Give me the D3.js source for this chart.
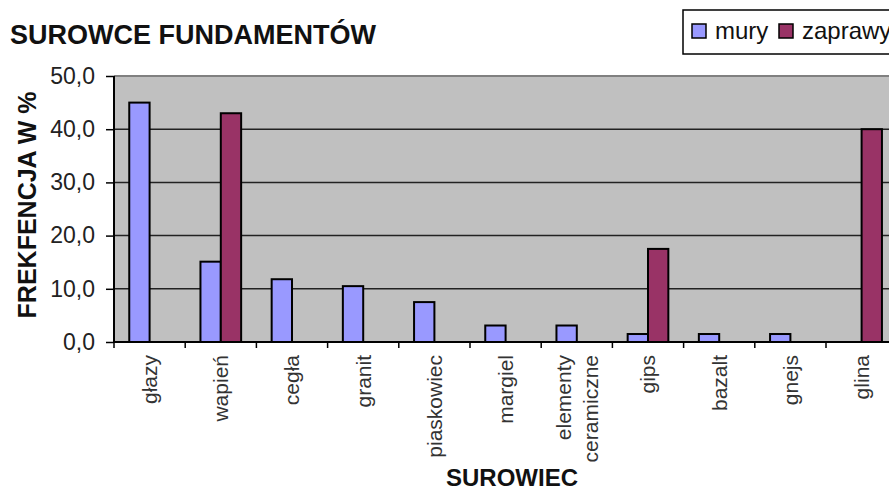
<!DOCTYPE html>
<html>
<head>
<meta charset="utf-8">
<script src="https://cdn.jsdelivr.net/npm/d3@7"></script>
<style>
  body { margin: 0; background: #fff; }
  svg { display: block; font-family: Arial, "Liberation Sans", sans-serif; }
</style>
</head>
<body>
<svg id="chart" width="889" height="488"></svg>
<script>
// data
var categories = ['głazy', 'wapień', 'cegła', 'granit', 'piaskowiec', 'margiel',
  'elementy ceramiczne', 'gips', 'bazalt', 'gnejs', 'glina'];
var seriesNames = ['mury', 'zaprawy'];
var mury    = [45.0, 15.1, 11.8, 10.5, 7.5, 3.1, 3.1, 1.5, 1.5, 1.5, 0];
var zaprawy = [0, 43.0, 0, 0, 0, 0, 0, 17.5, 0, 0, 40.0];
var yTicks = [0, 10, 20, 30, 40, 50];

var colors = { mury: '#9999ff', zaprawy: '#993366' };

var svg = d3.select('#chart');

// plot box (note: "top" is taken by window.top, so use plotTop)
var plotLeft = 114, plotTop = 76, plotBottom = 342, plotRight = 900;
var bandW = 71.2;

var x = d3.scaleBand()
  .domain(categories)
  .range([plotLeft, plotLeft + bandW * categories.length])
  .padding(0);

var xs = d3.scaleBand()
  .domain(seriesNames)
  .range([0, x.bandwidth()])
  .paddingInner(0)
  .paddingOuter(0.75);

var y = d3.scaleLinear().domain([0, 50]).range([plotBottom, plotTop]);

// plot area
svg.append('rect')
  .attr('x', plotLeft).attr('y', plotTop)
  .attr('width', plotRight - plotLeft).attr('height', plotBottom - plotTop)
  .attr('fill', '#c0c0c0');

// gridlines
svg.append('g').selectAll('line')
  .data(yTicks.filter(function(d) { return d > 0 && d < 50; }))
  .join('line')
  .attr('x1', plotLeft).attr('x2', plotRight)
  .attr('y1', function(d) { return y(d); })
  .attr('y2', function(d) { return y(d); })
  .attr('stroke', '#222').attr('stroke-width', 1.5);

// top border
svg.append('line')
  .attr('x1', plotLeft).attr('x2', plotRight)
  .attr('y1', plotTop).attr('y2', plotTop)
  .attr('stroke', '#808080').attr('stroke-width', 2);

// bars
var rows = categories.map(function(c, i) {
  return { cat: c, mury: mury[i], zaprawy: zaprawy[i] };
});

svg.append('g').selectAll('g')
  .data(rows)
  .join('g')
  .attr('transform', function(d) { return 'translate(' + x(d.cat) + ',0)'; })
  .selectAll('rect')
  .data(function(d) {
    return seriesNames.map(function(s) { return { key: s, value: d[s] }; })
      .filter(function(v) { return v.value > 0; });
  })
  .join('rect')
  .attr('x', function(d) { return xs(d.key); })
  .attr('width', xs.bandwidth())
  .attr('y', function(d) { return y(d.value); })
  .attr('height', function(d) { return y(0) - y(d.value); })
  .attr('fill', function(d) { return colors[d.key]; })
  .attr('stroke', '#000')
  .attr('stroke-width', 2);

// y axis
var yAxis = d3.axisLeft(y)
  .tickValues(yTicks)
  .tickSize(8)
  .tickPadding(11)
  .tickFormat(function(d) { return d3.format('.1f')(d).replace('.', ','); });

var ya = svg.append('g')
  .attr('transform', 'translate(' + plotLeft + ',0)')
  .call(yAxis);
ya.select('.domain').attr('stroke', '#000').attr('stroke-width', 2)
  .attr('d', 'M0,' + plotTop + 'V' + plotBottom);
ya.selectAll('.tick line').attr('stroke', '#000').attr('stroke-width', 1.5);
ya.selectAll('.tick text')
  .attr('font-size', 23).attr('fill', '#222')
  .attr('font-family', 'Arial, "Liberation Sans", sans-serif');

// x axis: line with ticks at band edges
svg.append('line')
  .attr('x1', plotLeft).attr('x2', plotRight)
  .attr('y1', plotBottom).attr('y2', plotBottom)
  .attr('stroke', '#000').attr('stroke-width', 2);

svg.append('g').selectAll('line')
  .data(categories.concat(['__end']))
  .join('line')
  .attr('x1', function(d, i) { return plotLeft + i * x.step(); })
  .attr('x2', function(d, i) { return plotLeft + i * x.step(); })
  .attr('y1', plotBottom).attr('y2', plotBottom + 6)
  .attr('stroke', '#000').attr('stroke-width', 1.5);

// x labels, rotated
var xl = svg.append('g').selectAll('text')
  .data(categories)
  .join('text')
  .attr('transform', function(d) {
    return 'translate(' + (x(d) + x.bandwidth() / 2) + ',' + (plotBottom + 13) + ') rotate(-90)';
  })
  .attr('text-anchor', 'end')
  .attr('font-size', 21)
  .attr('fill', '#333');

xl.each(function(d) {
  var words = d.split(' ');
  var t = d3.select(this);
  var n = words.length;
  words.forEach(function(w, i) {
    t.append('tspan')
      .attr('x', 0)
      .attr('y', (i - (n - 1) / 2) * 27)
      .attr('dy', '0.35em')
      .text(w);
  });
});

// titles
svg.append('text')
  .attr('x', 10).attr('y', 44)
  .attr('font-size', 27).attr('font-weight', 'bold').attr('fill', '#111')
  .text('SUROWCE FUNDAMENTÓW');

svg.append('text')
  .attr('transform', 'translate(36,' + ((plotTop + plotBottom) / 2 - 4) + ') rotate(-90)')
  .attr('text-anchor', 'middle')
  .attr('font-size', 25).attr('font-weight', 'bold').attr('fill', '#111')
  .text('FREKFENCJA W %');

svg.append('text')
  .attr('x', 512).attr('y', 486)
  .attr('text-anchor', 'middle')
  .attr('font-size', 24).attr('font-weight', 'bold').attr('fill', '#111')
  .text('SUROWIEC');

// legend
var lg = svg.append('g');
lg.append('rect')
  .attr('x', 683).attr('y', 10)
  .attr('width', 230).attr('height', 44)
  .attr('fill', '#fff').attr('stroke', '#000').attr('stroke-width', 1.5);

var legendX = [692, 779];
seriesNames.forEach(function(s, i) {
  lg.append('rect')
    .attr('x', legendX[i]).attr('y', 24)
    .attr('width', 14).attr('height', 14)
    .attr('fill', colors[s]).attr('stroke', '#000').attr('stroke-width', 1.5);
  lg.append('text')
    .attr('x', legendX[i] + 23).attr('y', 39)
    .attr('font-size', 24).attr('fill', '#111')
    .text(s);
});
</script>
</body>
</html>
